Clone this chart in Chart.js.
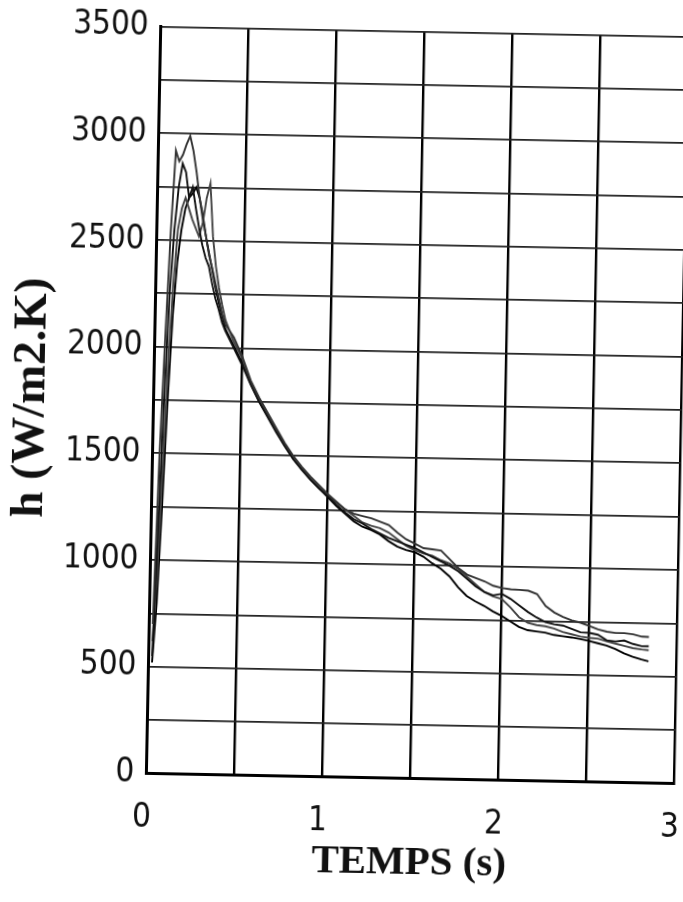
<!DOCTYPE html>
<html>
<head>
<meta charset="utf-8">
<script src="https://cdn.jsdelivr.net/npm/chart.js@4"></script>
<style>
  body { margin: 0; background: #fff; overflow: hidden; }
  #wrap { width: 700px; height: 902px; transform: rotate(1.1deg); transform-origin: 417.5px 405px; }
</style>
</head>
<body>
<div id="wrap"><canvas id="hChart" width="700" height="902"></canvas></div>
<script>
// time (s)
const temps = [0.02, 0.04, 0.06, 0.08, 0.10, 0.12, 0.14, 0.16, 0.18, 0.20,
  0.22, 0.24, 0.26, 0.28, 0.30, 0.32, 0.34, 0.36, 0.38, 0.40,
  0.45, 0.50, 0.55, 0.60, 0.65, 0.70, 0.75, 0.80, 0.85, 0.90,
  0.95, 1.00, 1.05, 1.10, 1.15, 1.20, 1.25, 1.30, 1.35, 1.40,
  1.45, 1.50, 1.55, 1.60, 1.65, 1.70, 1.75, 1.80, 1.85, 1.90,
  1.95, 2.00, 2.05, 2.10, 2.15, 2.20, 2.25, 2.30, 2.35, 2.40,
  2.45, 2.50, 2.55, 2.60, 2.65, 2.70, 2.75, 2.80, 2.84]

// h (W/m2.K), one array per test
const h_essai_1 = [700, 1500, 2050, 2550, 2920, 2870, 2900, 2950, 2990, 2920,
  2820, 2700, 2600, 2520, 2430, 2370, 2300, 2230, 2160, 2110,
  2050, 1960, 1850, 1770, 1700, 1630, 1560, 1500, 1450, 1405,
  1365, 1325, 1290, 1255, 1235, 1225, 1215, 1200, 1185, 1150,
  1120, 1100, 1080, 1075, 1070, 1030, 990, 960, 945, 930,
  910, 900, 895, 893, 890, 875, 820, 790, 770, 755,
  745, 730, 715, 705, 700, 700, 695, 685, 684]
const h_essai_2 = [550, 1150, 1750, 2250, 2550, 2750, 2860, 2820, 2700, 2750,
  2650, 2560, 2480, 2420, 2380, 2300, 2230, 2180, 2120, 2080,
  2000, 1920, 1830, 1750, 1680, 1610, 1545, 1485, 1435, 1390,
  1350, 1315, 1275, 1240, 1210, 1190, 1165, 1145, 1125, 1110,
  1095, 1080, 1060, 1040, 1020, 1000, 975, 940, 905, 880,
  865, 873, 850, 820, 790, 765, 745, 735, 730, 715,
  700, 698, 690, 665, 660, 665, 650, 640, 641]
const h_essai_3 = [620, 950, 1450, 1950, 2300, 2550, 2650, 2700, 2650, 2600,
  2560, 2520, 2580, 2700, 2770, 2520, 2380, 2280, 2200, 2130,
  2030, 1950, 1840, 1760, 1690, 1620, 1550, 1490, 1440, 1395,
  1355, 1320, 1285, 1255, 1225, 1195, 1180, 1170, 1150, 1120,
  1090, 1070, 1055, 1045, 1025, 1010, 985, 950, 915, 880,
  860, 849, 810, 765, 740, 730, 725, 715, 700, 690,
  680, 675, 672, 660, 650, 640, 630, 625, 622]
const h_essai_4 = [520, 800, 1250, 1750, 2150, 2400, 2550, 2650, 2700, 2720,
  2750, 2700, 2620, 2520, 2440, 2360, 2280, 2210, 2150, 2090,
  2010, 1930, 1835, 1755, 1685, 1615, 1548, 1488, 1438, 1392,
  1350, 1310, 1270, 1235, 1200, 1175, 1160, 1140, 1110, 1085,
  1070, 1060, 1040, 1010, 985, 950, 900, 860, 835, 815,
  790, 770, 745, 720, 705, 700, 695, 685, 680, 675,
  668, 660, 650, 640, 625, 605, 590, 578, 570]

const x_labels = [0, 1, 2, 3]
const y_labels = [0, 500, 1000, 1500, 2000, 2500, 3000, 3500]
const axis_titles = ['TEMPS (s)', 'h (W/m2.K)']

function make_points(list_of_y) {
  return temps.map((t, i) => ({x: t, y: list_of_y[i]}))
}

function make_dataset(list_of_y, color) {
  return {
    data: make_points(list_of_y),
    borderColor: color,
    borderWidth: 1.9,
    pointRadius: 0,
    tension: 0,
    fill: false
  }
}

// labels of the first/last tick must not shrink the plot area
function fix_scale(scale, size) {
  if (scale.isHorizontal()) scale.height = size
  else scale.width = size
  scale.paddingLeft = 0
  scale.paddingRight = 0
  scale.paddingTop = 0
  scale.paddingBottom = 0
}

const tick_font = {family: "'Liberation Sans Narrow', 'DejaVu Sans Condensed', 'DejaVu Sans', sans-serif", size: 33}
const title_font = {family: "'Liberation Serif', 'DejaVu Serif', serif", size: 41, weight: 'bold'}

const ctx = document.getElementById('hChart')
const hChart = new Chart(ctx, {
  type: 'line',
  data: {
    datasets: [
      make_dataset(h_essai_1, '#333'),
      make_dataset(h_essai_2, '#111'),
      make_dataset(h_essai_3, '#444'),
      make_dataset(h_essai_4, '#000')
    ]
  },
  options: {
    responsive: false,
    animation: false,
    devicePixelRatio: 1,
    layout: {padding: {top: 31.5, right: 18.5, bottom: 0, left: 0}},
    plugins: {legend: {display: false}, tooltip: {enabled: false}},
    scales: {
      x: {
        type: 'linear',
        min: 0,
        max: 3,
        afterFit: (scale) => fix_scale(scale, 123.5),
        border: {display: true, color: '#000', width: 3},
        grid: {color: '#000', lineWidth: 2.4, drawTicks: false},
        ticks: {
          stepSize: 0.5,
          autoSkip: false,
          maxRotation: 0,
          padding: 25,
          labelOffset: -4,
          color: '#111',
          font: tick_font,
          callback: (v) => x_labels.includes(v) ? v : ''
        },
        title: {display: true, text: axis_titles[0], color: '#111', font: title_font, padding: {top: 0, bottom: 14}}
      },
      y: {
        min: 0,
        max: 3500,
        afterFit: (scale) => fix_scale(scale, 153.5),
        border: {display: true, color: '#000', width: 3},
        grid: {color: '#222', lineWidth: 1.8, drawTicks: false},
        ticks: {
          stepSize: 250,
          autoSkip: false,
          padding: 12,
          color: '#111',
          font: tick_font,
          callback: (v) => y_labels.includes(v) ? v : ''
        },
        title: {display: true, text: axis_titles[1], color: '#111', font: {...title_font, size: 47}, padding: {top: 4, bottom: 0}}
      }
    }
  }
})
</script>
</body>
</html>
